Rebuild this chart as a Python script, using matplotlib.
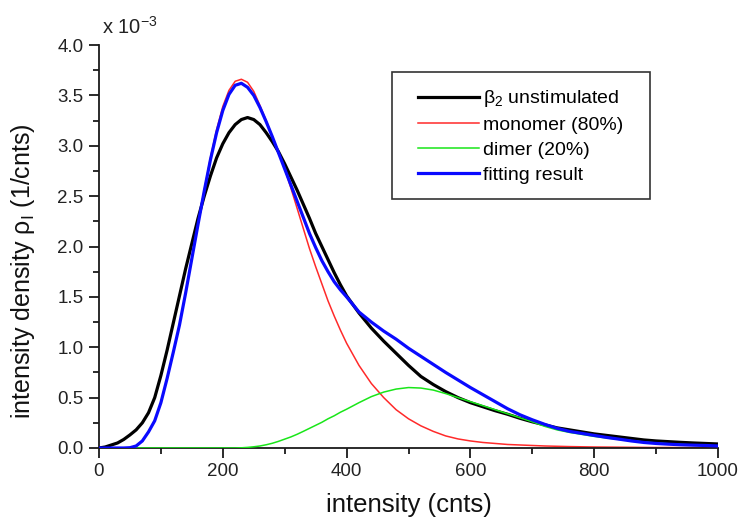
import matplotlib
matplotlib.use("Agg")
import matplotlib.pyplot as plt
from matplotlib.patches import Rectangle
from matplotlib.ticker import MultipleLocator, FormatStrFormatter

plt.rcParams['font.family'] = ['Liberation Sans', 'DejaVu Sans']

# intensity grid (cnts): fine steps over the peak, coarser in the tail
intensity = list(range(0, 401, 10)) + list(range(420, 1001, 20))

# densities in units of 1e-3 per cnt
beta2_unstimulated = [
    0.0, 0.01, 0.03, 0.05, 0.085, 0.13, 0.18, 0.25, 0.35, 0.50,
    0.72, 0.97, 1.24, 1.51, 1.78, 2.03, 2.28, 2.50, 2.70, 2.88,
    3.02, 3.13, 3.21, 3.26, 3.28, 3.26, 3.21, 3.13, 3.04, 2.94,
    2.82, 2.69, 2.56, 2.42, 2.28, 2.13, 2.00, 1.87, 1.74, 1.62,
    1.51,
    1.34, 1.19, 1.06, 0.94, 0.82, 0.71, 0.63, 0.56, 0.50, 0.45,
    0.41, 0.37, 0.335, 0.295, 0.26, 0.23, 0.20, 0.18, 0.16, 0.14,
    0.125, 0.11, 0.095, 0.08, 0.07, 0.063, 0.056, 0.05, 0.045, 0.04]

monomer = [
    0.0, 0.0, 0.0, 0.0, 0.0, 0.003, 0.02, 0.07, 0.16, 0.27,
    0.45, 0.69, 0.95, 1.22, 1.54, 1.88, 2.22, 2.56, 2.88, 3.16,
    3.39, 3.55, 3.64, 3.66, 3.63, 3.54, 3.40, 3.25, 3.09, 2.93,
    2.77, 2.58, 2.38, 2.18, 1.98, 1.80, 1.63, 1.46, 1.31, 1.17,
    1.04,
    0.82, 0.64, 0.50, 0.38, 0.29, 0.22, 0.165, 0.12, 0.09, 0.07,
    0.055, 0.045, 0.035, 0.03, 0.025, 0.02, 0.017, 0.014, 0.012, 0.01,
    0.009, 0.008, 0.007, 0.006, 0.005, 0.005, 0.004, 0.004, 0.003, 0.003]

dimer = [
    0.0, 0.0, 0.0, 0.0, 0.0, 0.0, 0.0, 0.0, 0.0, 0.0,
    0.0, 0.0, 0.0, 0.0, 0.0, 0.0, 0.0, 0.0, 0.0, 0.0,
    0.0, 0.0, 0.0, 0.002, 0.006, 0.012, 0.02, 0.032, 0.047, 0.066,
    0.088, 0.11, 0.136, 0.165, 0.195, 0.225, 0.255, 0.29, 0.32, 0.355,
    0.385,
    0.45, 0.51, 0.555, 0.585, 0.60, 0.595, 0.575, 0.54, 0.50, 0.46,
    0.42, 0.38, 0.34, 0.30, 0.26, 0.215, 0.18, 0.155, 0.135, 0.115,
    0.10, 0.085, 0.072, 0.06, 0.05, 0.042, 0.035, 0.03, 0.025, 0.02]

fitting_result = [
    0.0, 0.0, 0.0, 0.0, 0.0, 0.003, 0.02, 0.07, 0.16, 0.27,
    0.45, 0.69, 0.95, 1.22, 1.54, 1.88, 2.22, 2.55, 2.86, 3.13,
    3.35, 3.51, 3.60, 3.62, 3.58, 3.50, 3.38, 3.24, 3.09, 2.93,
    2.77, 2.61, 2.45, 2.29, 2.13, 1.99, 1.86, 1.75, 1.65, 1.57,
    1.50,
    1.35, 1.25, 1.16, 1.08, 0.99, 0.91, 0.83, 0.75, 0.675, 0.60,
    0.53, 0.46, 0.39, 0.33, 0.28, 0.235, 0.195, 0.165, 0.145, 0.125,
    0.105, 0.088, 0.07, 0.055, 0.045, 0.038, 0.032, 0.028, 0.025, 0.02]

x_ticks = [0, 200, 400, 600, 800, 1000]
y_ticks = [0.0, 0.5, 1.0, 1.5, 2.0, 2.5, 3.0, 3.5, 4.0]

fig = plt.figure(figsize=(7.44, 5.22), dpi=100)
ax = fig.add_axes([99 / 744, 1 - 448 / 522, 619 / 744, 403 / 522])

ax.plot(intensity, beta2_unstimulated, color='black', lw=2.3,
        label=r'$\mathregular{\beta_2}$ unstimulated', zorder=3)
ax.plot(intensity, monomer, color='#ff2a2a', lw=1.1, label='monomer (80%)', zorder=2)
ax.plot(intensity, dimer, color='#19e619', lw=1.1, label='dimer (20%)', zorder=3.5)
ax.plot(intensity, fitting_result, color='#0a0aff', lw=2.3, label='fitting result',
        zorder=4)

ax.set_xlim(0, 1000)
ax.set_ylim(0, 4.0)
ax.set_xticks(x_ticks)
ax.set_yticks(y_ticks)
ax.xaxis.set_minor_locator(MultipleLocator(100))
ax.yaxis.set_minor_locator(MultipleLocator(0.25))
ax.yaxis.set_major_formatter(FormatStrFormatter('%.1f'))

for side in ('top', 'right'):
    ax.spines[side].set_visible(False)
for side in ('left', 'bottom'):
    ax.spines[side].set_color('#1a1a1a')
    ax.spines[side].set_linewidth(1.3)

ax.tick_params(which='major', direction='out', length=7, width=1.3,
               colors='#1a1a1a', labelsize=13.5, labelcolor='#222222', pad=4)
ax.tick_params(which='minor', direction='out', length=4, width=1.3, colors='#1a1a1a')

ax.set_xlabel('intensity (cnts)', fontsize=18.5, color='#111111', labelpad=9)
ax.set_ylabel(r'intensity density $\mathregular{\rho_I}$ (1/cnts)', fontsize=18,
              color='#111111')
ax.yaxis.set_label_coords(-0.10, 0.44)

fig.text(102 / 744, 1 - 27 / 522, r'x $\mathregular{10^{-3}}$', fontsize=14.5,
         color='#222222', va='center', ha='left')

# legend frame with wider side margins than top/bottom
ax.add_patch(Rectangle((0.4733, 0.618), 0.4167, 0.315, transform=ax.transAxes,
                       fill=True, facecolor='white', edgecolor='#333333',
                       linewidth=1.2, zorder=5))
leg = ax.legend(loc='upper left', bbox_to_anchor=(0.5153, 0.8925),
                fontsize=14, frameon=False, borderpad=0,
                handlelength=3.15, handletextpad=0.2, labelspacing=0.37,
                borderaxespad=0)
leg.set_zorder(6)

fig.savefig('out.png', dpi=100)
